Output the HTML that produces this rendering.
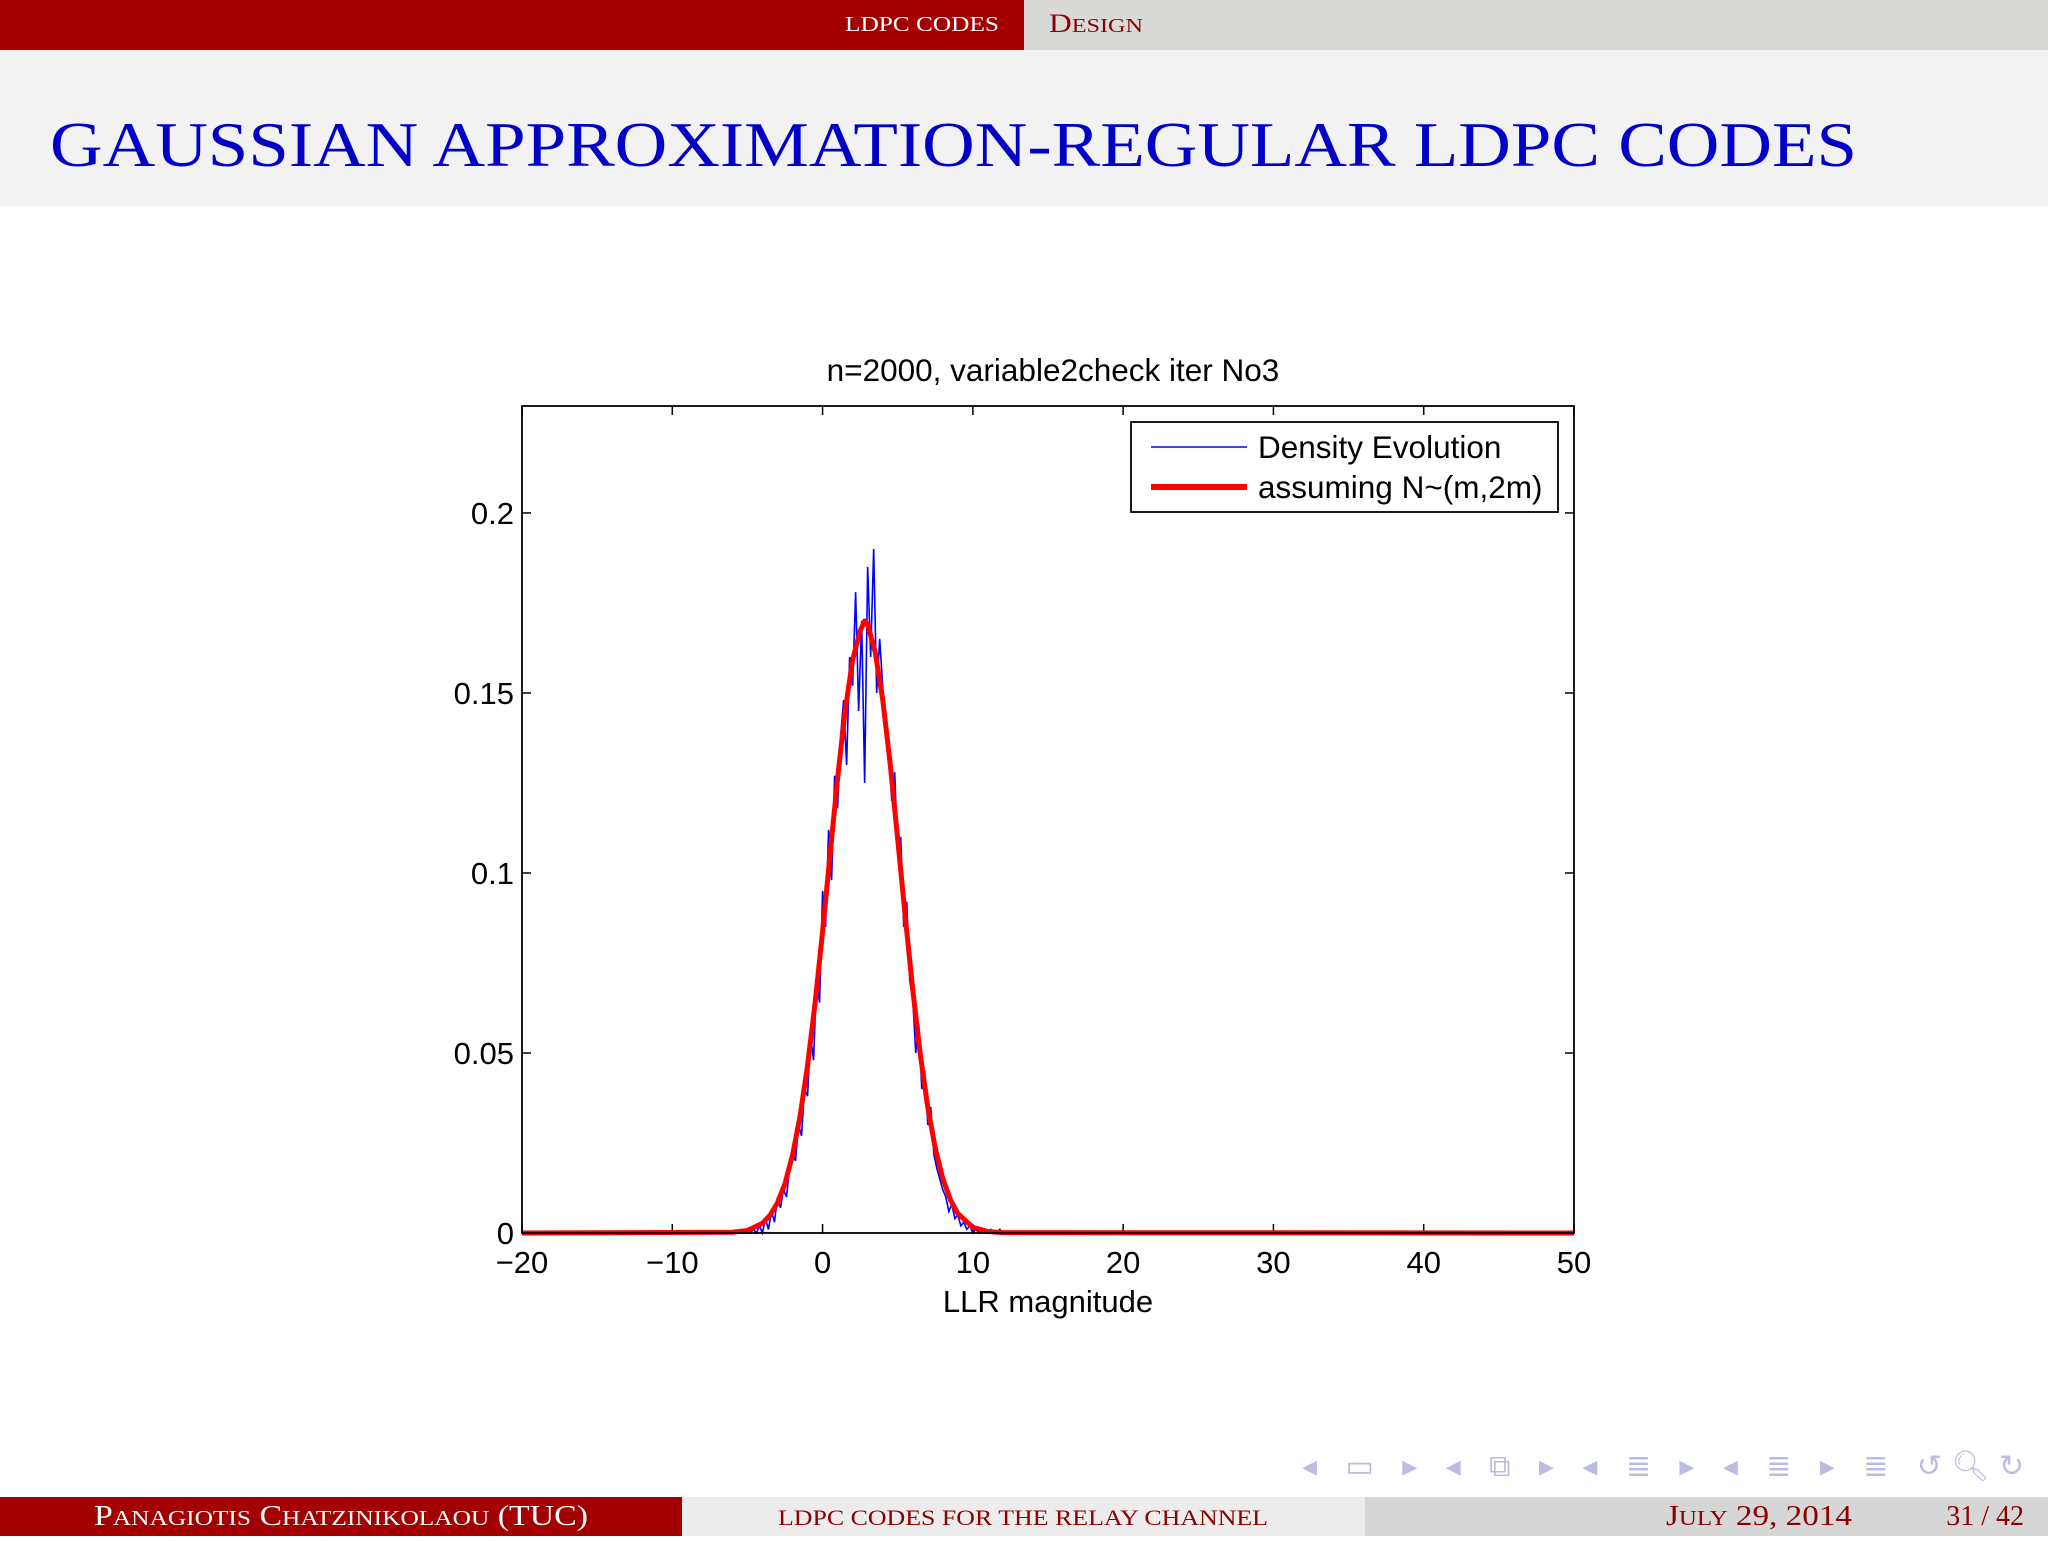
<!DOCTYPE html>
<html><head><meta charset="utf-8"><style>
html,body{margin:0;padding:0;background:#fff}
body{width:2048px;height:1536px;overflow:hidden;position:relative;font-family:"Liberation Serif",serif}
</style></head><body>
<svg width="2048" height="1536" viewBox="0 0 2048 1536" xmlns="http://www.w3.org/2000/svg">
  <rect x="0" y="0" width="1024" height="50" fill="#a30002"/>
  <rect x="1024" y="0" width="1024" height="50" fill="#d9d9d7"/>
  <text x="845" y="31" font-family="Liberation Serif" font-size="21" fill="#fff" textLength="154" lengthAdjust="spacingAndGlyphs">LDPC CODES</text>
  <text x="1049" y="32" font-family="Liberation Serif" font-size="26" fill="#8b0000" textLength="94" lengthAdjust="spacingAndGlyphs">D<tspan font-size="20">ESIGN</tspan></text>
  <rect x="0" y="50" width="2048" height="156" fill="#f2f2f2"/>
  <text x="50" y="166" font-family="Liberation Serif" font-size="64" fill="#0000c8" textLength="1807" lengthAdjust="spacingAndGlyphs">GAUSSIAN APPROXIMATION-REGULAR LDPC CODES</text>

  <g id="chart"></g>

  <g>
    <text x="1302" y="1476" font-family="DejaVu Sans" font-size="30" fill="#bcbce0" textLength="722" lengthAdjust="spacing">◂ ▭ ▸ ◂ ⧉ ▸ ◂ ≣ ▸ ◂ ≣ ▸ ≣ ↺🔍︎↻</text>
  </g>

  <rect x="0" y="1497" width="682" height="39" fill="#a30002"/>
  <rect x="682" y="1497" width="683" height="39" fill="#ececec"/>
  <rect x="1365" y="1497" width="683" height="39" fill="#d6d6d6"/>
  <text x="94" y="1525" font-family="Liberation Serif" font-size="28" fill="#fff" textLength="494" lengthAdjust="spacingAndGlyphs">P<tspan font-size="21">ANAGIOTIS</tspan> C<tspan font-size="21">HATZINIKOLAOU</tspan>  (TUC)</text>
  <text x="778" y="1525" font-family="Liberation Serif" font-size="22" fill="#8b0000" textLength="490" lengthAdjust="spacingAndGlyphs">LDPC CODES FOR THE RELAY CHANNEL</text>
  <text x="1666" y="1525" font-family="Liberation Serif" font-size="28" fill="#8b0000" textLength="186" lengthAdjust="spacingAndGlyphs">J<tspan font-size="21">ULY</tspan> 29, 2014</text>
  <text x="2024" y="1525" text-anchor="end" font-family="Liberation Serif" font-size="28" fill="#8b0000">31 / 42</text>
</svg>
<script>
const xTicks=[-20,-10,0,10,20,30,40,50];
const yTicks=[0,0.05,0.1,0.15,0.2];
const yTickLabels=["0","0.05","0.1","0.15","0.2"];
const deStart=-5.0, deStep=0.2;
const deValues=[0.000,0.000,0.001,0.000,0.002,0.000,0.004,0.001,0.006,0.003,0.010,0.007,0.012,0.010,0.018,0.022,0.020,0.030,0.027,0.040,0.038,0.055,0.048,0.070,0.064,0.095,0.085,0.112,0.098,0.127,0.118,0.138,0.148,0.130,0.160,0.152,0.178,0.145,0.170,0.125,0.185,0.160,0.190,0.150,0.165,0.152,0.140,0.135,0.120,0.128,0.105,0.110,0.085,0.092,0.070,0.065,0.050,0.058,0.040,0.045,0.030,0.035,0.022,0.018,0.015,0.012,0.010,0.006,0.008,0.004,0.005,0.002,0.003,0.001,0.002,0.000,0.001,0.000,0.001,0.000,0.000,0.001,0.000,0.000,0.001,0.000];
const gaussX=[-20,-6,-5,-4,-3.5,-3,-2.5,-2,-1.5,-1,-0.5,0,0.5,1,1.5,2,2.5,2.8,3,3.5,4,4.5,5,5.5,6,6.5,7,7.5,8,8.5,9,10,11,12,50];
const gaussY=[0,0.0002,0.0007,0.0027,0.0049,0.0084,0.0137,0.0216,0.0324,0.0465,0.0638,0.0837,0.1052,0.1263,0.145,0.1592,0.1672,0.1700,0.1690,0.1614,0.1482,0.1303,0.1094,0.0879,0.0676,0.0497,0.0349,0.0235,0.0151,0.0093,0.0054,0.0016,0.0004,0.0001,0];
const NS="http://www.w3.org/2000/svg";
const L=522,R=1574,T=406,B=1233,xmin=-20,xmax=50,ymax=0.2297;
const sx=v=>L+(v-xmin)/(xmax-xmin)*(R-L);
const sy=v=>B-v/ymax*(B-T);
const g=document.getElementById('chart');
function mk(tag,attrs,parent){const e=document.createElementNS(NS,tag);for(const k in attrs)e.setAttribute(k,attrs[k]);(parent||g).appendChild(e);return e;}
let t=mk('text',{x:1053,y:381,'text-anchor':'middle','font-family':'Liberation Sans','font-size':31.5,fill:'#000'});


t.textContent='n=2000, variable2check iter No3';
xTicks.forEach((v,i)=>{
  const x=sx(v);
  const a=mk('line',{x1:x,x2:x,y1:B,y2:B-9,stroke:'#000','stroke-width':1.5});
  
  
  const b=mk('line',{x1:x,x2:x,y1:T,y2:T+9,stroke:'#000','stroke-width':1.5});
  
  
  const l=mk('text',{x:x,y:1273,'text-anchor':'middle','font-family':'Liberation Sans','font-size':31});
  
  
  l.textContent=v<0?'\u2212'+(-v):String(v);
});
yTicks.forEach((v,i)=>{
  const y=sy(v);
  const a=mk('line',{x1:L,x2:L+9,y1:y,y2:y,stroke:'#000','stroke-width':1.5});
  
  
  const b=mk('line',{x1:R,x2:R-9,y1:y,y2:y,stroke:'#000','stroke-width':1.5});
  
  
  const l=mk('text',{x:514,y:y+11,'text-anchor':'end','font-family':'Liberation Sans','font-size':31});
  
  
  l.textContent=yTickLabels[i];
});
let xl=mk('text',{x:1048,y:1312,'text-anchor':'middle','font-family':'Liberation Sans','font-size':31});


xl.textContent='LLR magnitude';
let pts=[[sx(-20),sy(0)]];
deValues.forEach((v,i)=>{pts.push([sx(deStart+i*deStep),sy(v)]);});
pts.push([sx(50),sy(0)]);
let de=mk('polyline',{points:pts.map(p=>p.join(',')).join(' '),fill:'none',stroke:'#0000ff','stroke-width':1.6});


let gp=gaussX.map((x,i)=>sx(x)+','+sy(gaussY[i])).join(' ');
let ga=mk('polyline',{points:gp,fill:'none',stroke:'#ff0000','stroke-width':5,'stroke-linejoin':'round'});


let fr=mk('rect',{x:L,y:T,width:R-L,height:B-T,fill:'none',stroke:'#000','stroke-width':1.8});


let lg=mk('g',{});


let lb=mk('rect',{x:1131,y:422,width:427,height:90,fill:'#fff',stroke:'#000','stroke-width':1.8},lg);


let l1=mk('line',{x1:1151,x2:1247,y1:447,y2:447,stroke:'#0000ff','stroke-width':1.6},lg);


let t1=mk('text',{x:1258,y:458,'font-family':'Liberation Sans','font-size':31.5},lg);


t1.textContent='Density Evolution';
let l2=mk('line',{x1:1151,x2:1247,y1:487,y2:487,stroke:'#ff0000','stroke-width':6},lg);


let t2=mk('text',{x:1258,y:498,'font-family':'Liberation Sans','font-size':31.5},lg);


t2.textContent='assuming N~(m,2m)';
</script>
</body></html>
